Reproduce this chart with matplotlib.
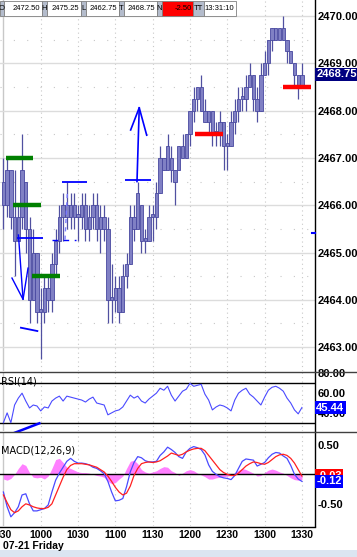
import matplotlib
matplotlib.use('Agg')
import matplotlib.pyplot as plt
from matplotlib.patches import Rectangle
import numpy as np

# 3-minute bars from 9:30, minutes since open
bar_open = [2466.5, 2466.0, 2466.75, 2465.75, 2465.25, 2465.75, 2466.5, 2465.5, 2464.0, 2465.0,
            2463.75, 2463.75, 2464.25, 2464.0, 2464.75, 2465.25, 2465.75, 2466.0, 2465.75, 2466.0,
            2465.75, 2465.75, 2466.0, 2465.5, 2465.75, 2466.0, 2465.5, 2465.75, 2465.5, 2464.0,
            2464.0, 2464.25, 2463.75, 2464.5, 2464.75, 2465.75, 2465.5, 2466.0, 2465.25, 2465.25,
            2465.75, 2465.75, 2466.25, 2467.0, 2466.75, 2467.0, 2466.75, 2466.75, 2467.25, 2467.0,
            2467.5, 2468.0, 2468.25, 2468.5, 2468.0, 2467.75, 2468.0, 2467.5, 2467.5, 2467.75,
            2467.25, 2467.25, 2467.75, 2468.0, 2468.25, 2468.25, 2468.5, 2468.75, 2468.25, 2468.0,
            2468.75, 2469.0, 2469.5, 2469.75, 2469.5, 2469.75, 2469.5, 2469.25, 2469.0, 2468.75,
            2468.5]
bar_high = [2467.0, 2467.0, 2466.75, 2466.75, 2466.0, 2467.5, 2466.5, 2465.75, 2465.5, 2465.0,
            2464.25, 2464.5, 2464.5, 2465.0, 2465.5, 2466.0, 2466.25, 2466.5, 2466.25, 2466.25,
            2466.0, 2466.25, 2466.25, 2466.0, 2466.25, 2466.25, 2466.0, 2466.0, 2465.75, 2464.75,
            2464.5, 2464.5, 2464.75, 2465.0, 2466.0, 2466.0, 2466.5, 2466.0, 2465.5, 2466.0,
            2466.0, 2466.5, 2467.25, 2467.0, 2467.5, 2467.25, 2466.75, 2467.25, 2467.5, 2467.5,
            2468.0, 2468.5, 2468.5, 2468.75, 2468.25, 2468.0, 2468.0, 2467.75, 2468.0, 2467.75,
            2467.5, 2468.0, 2468.25, 2468.5, 2468.5, 2468.75, 2469.0, 2468.75, 2468.5, 2469.0,
            2469.25, 2469.5, 2469.75, 2469.75, 2469.75, 2470.0, 2469.5, 2469.25, 2469.0, 2468.75,
            2469.0]
bar_low = [2465.5, 2465.75, 2465.5, 2464.5, 2465.25, 2465.5, 2465.0, 2463.5, 2464.0, 2463.5,
           2462.75, 2463.5, 2463.75, 2463.75, 2464.5, 2465.0, 2465.25, 2465.5, 2465.5, 2465.5,
           2465.25, 2465.5, 2465.25, 2465.25, 2465.5, 2465.25, 2465.0, 2465.25, 2463.5, 2463.5,
           2463.75, 2463.5, 2463.75, 2464.25, 2464.75, 2465.25, 2465.5, 2465.0, 2465.0, 2465.25,
           2465.25, 2465.5, 2466.25, 2466.75, 2466.75, 2466.5, 2466.0, 2466.75, 2467.0, 2467.0,
           2467.25, 2467.75, 2468.0, 2468.0, 2467.75, 2467.5, 2467.25, 2467.25, 2467.25, 2466.75,
           2466.75, 2467.25, 2467.5, 2467.75, 2468.0, 2468.0, 2468.5, 2468.0, 2467.75, 2468.0,
           2468.75, 2468.75, 2469.25, 2469.5, 2469.5, 2469.5, 2469.0, 2469.0, 2468.5, 2468.25,
           2468.5]
bar_close = [2466.0, 2466.75, 2465.75, 2465.25, 2465.75, 2466.75, 2465.5, 2464.0, 2465.0, 2463.75,
             2463.75, 2464.25, 2464.0, 2464.75, 2465.25, 2465.75, 2466.0, 2465.75, 2466.0, 2465.75,
             2465.75, 2466.0, 2465.5, 2465.75, 2466.0, 2465.5, 2465.75, 2465.5, 2464.0, 2464.0,
             2464.25, 2463.75, 2464.5, 2464.75, 2465.75, 2465.5, 2466.25, 2465.25, 2465.25, 2465.75,
             2465.75, 2466.25, 2467.0, 2466.75, 2467.25, 2466.75, 2466.5, 2467.25, 2467.0, 2467.5,
             2468.0, 2468.25, 2468.5, 2468.0, 2467.75, 2468.0, 2467.5, 2467.5, 2467.75, 2467.25,
             2467.25, 2467.75, 2468.0, 2468.25, 2468.25, 2468.5, 2468.75, 2468.25, 2468.0, 2468.75,
             2469.0, 2469.5, 2469.75, 2469.5, 2469.75, 2469.5, 2469.25, 2469.0, 2468.75, 2468.5,
             2468.75]

rsi = [30, 40, 30, 48, 55, 60, 52, 45, 48, 47, 42, 46, 45, 52, 55, 57, 52, 57, 56, 55,
       54, 53, 51, 54, 56, 50, 49, 48, 38, 40, 42, 43, 46, 52, 58, 55, 57, 52, 50, 54,
       57, 60, 65, 63, 67, 58, 52, 57, 62, 64, 70, 67, 68, 69, 59, 53, 43, 46, 48, 47,
       45, 42, 53, 60, 63, 65, 59, 56, 52, 48, 56, 63, 66, 67, 65, 62, 55, 50, 43, 39, 45.44]

macd = [-0.30, -0.55, -0.72, -0.65, -0.55, -0.35, -0.33, -0.50, -0.62, -0.62,
        -0.60, -0.58, -0.52, -0.30, -0.10, 0.02, 0.12, 0.22, 0.27, 0.22,
        0.19, 0.19, 0.18, 0.16, 0.12, 0.10, 0.06, 0.01, -0.12, -0.30,
        -0.45, -0.44, -0.41, -0.21, 0.04, 0.20, 0.30, 0.28, 0.23, 0.21,
        0.21, 0.22, 0.32, 0.38, 0.46, 0.42, 0.37, 0.30, 0.27, 0.38,
        0.44, 0.47, 0.45, 0.42, 0.33, 0.16, 0.05, 0.00, -0.04, -0.06,
        -0.07, -0.09, -0.02, 0.10, 0.22, 0.26, 0.25, 0.24, 0.14, 0.17,
        0.20, 0.28, 0.34, 0.37, 0.36, 0.31, 0.27, 0.15, 0.00, -0.08, -0.12]
signal = [-0.35, -0.48, -0.60, -0.65, -0.62, -0.55, -0.50, -0.52, -0.55, -0.57,
          -0.58, -0.58, -0.56, -0.50, -0.35, -0.20, -0.05, 0.08, 0.15, 0.18,
          0.18, 0.18, 0.17, 0.16, 0.14, 0.12, 0.08, 0.04, -0.03, -0.12,
          -0.22, -0.30, -0.35, -0.32, -0.20, -0.02, 0.10, 0.18, 0.20, 0.21,
          0.20, 0.21, 0.23, 0.27, 0.31, 0.36, 0.34, 0.32, 0.34, 0.38,
          0.41, 0.43, 0.44, 0.44, 0.40, 0.32, 0.24, 0.16, 0.08, 0.03,
          0.00, -0.02, -0.02, 0.02, 0.08, 0.14, 0.18, 0.21, 0.20, 0.18,
          0.17, 0.20, 0.25, 0.30, 0.33, 0.34, 0.32, 0.27, 0.19, 0.08, -0.03]
hist = [-0.08, -0.10, -0.07, 0.0, 0.10, 0.18, 0.15, 0.03, -0.05, -0.06,
        -0.05, -0.08, -0.03, 0.10, 0.25, 0.27, 0.20, 0.12, 0.10, 0.07,
        0.04, 0.03, 0.03, 0.02, 0.0, -0.02, -0.03, -0.05, -0.12, -0.16,
        -0.14, -0.08, -0.03, 0.10, 0.22, 0.24, 0.18, 0.08, 0.04, 0.02,
        0.04, 0.06, 0.10, 0.13, 0.12, 0.06, 0.03, -0.02, 0.02, 0.06,
        0.08, 0.06, 0.02, -0.01, -0.04, -0.08, -0.08, -0.06, -0.05, -0.04,
        -0.03, -0.02, 0.03, 0.07, 0.10, 0.08, 0.05, 0.02, -0.03, -0.02,
        0.03, 0.07, 0.09, 0.07, 0.04, 0.02, -0.02, -0.06, -0.09, -0.10, -0.09]

time_ticks = [0, 30, 60, 90, 120, 150, 180, 210, 240]
time_labels = ['930', '1000', '1030', '1100', '1130', '1200', '1230', '1300', '1330']
price_ticks = [2463, 2464, 2465, 2466, 2467, 2468, 2469, 2470]

header = [('O', ''), ('2472.50', 'v'), ('H', ''), ('2475.25', 'v'), ('L', ''), ('2462.75', 'v'),
          ('T', ''), ('2468.75', 'v'), ('N', ''), ('-2.50', 'r'), ('TT', ''), ('13:31:10', 'v')]
header_x = [0, 4, 42, 47, 81, 86, 119, 124, 157, 162, 193, 204, 236]

W, H = 357, 557
fig = plt.figure(figsize=(W / 100, H / 100), dpi=100)

def box(x0, y0, x1, y1):
    return [x0 / W, 1 - y1 / H, (x1 - x0) / W, (y1 - y0) / H]

t = np.arange(len(bar_open)) * 3
XL = (-2.73, 250.5)
lab = dict(family='Liberation Sans', weight='bold', size=8)

ax = fig.add_axes(box(0, 0, 315, 371))
ax_r = fig.add_axes(box(0, 372, 315, 431))
ax_m = fig.add_axes(box(0, 432, 315, 526))

for a in (ax, ax_r, ax_m):
    a.set_xlim(*XL)
    for s in ('left', 'top', 'bottom'):
        a.spines[s].set_visible(False)
    a.spines['right'].set_color('black')
    a.spines['right'].set_linewidth(1)
    a.yaxis.tick_right()
    a.tick_params(axis='y', length=0, pad=2)
    a.tick_params(axis='x', length=0)
    a.set_xticks(time_ticks)
    for xt in time_ticks[1:]:
        a.axvline(xt, color='#c8c8c8', lw=0.8, ls=(0, (1, 3)), zorder=0)
    a.axvline(0, color='#c8c8c8', lw=1, zorder=0)

# price panel
ax.set_ylim(2462.495, 2470.338)
ax.set_yticks(price_ticks)
ax.set_yticklabels(['%.2f' % p for p in price_ticks], **lab)
ax.set_xticklabels([])
for p in price_ticks:
    ax.axhline(p, color='#dcdcdc', lw=1, zorder=0)
    ax.axhline(p + 0.5, color='#c8c8c8', lw=0.8, ls=(0, (1, 11)), zorder=0)

o = np.array(bar_open); c = np.array(bar_close)
ax.vlines(t, bar_low, bar_high, color='#5050a0', lw=0.9, zorder=2)
bot = np.minimum(o, c)
ht = np.maximum(np.abs(c - o), 0.06)
ax.bar(t, ht, bottom=bot, width=2.7, color='#8080c4', edgecolor='#4848a0', lw=0.6, zorder=3)

# drawn levels
ax.hlines([2467.0, 2466.0, 2464.5], [2.1, 7.7, 23.0], [23.8, 30.2, 45.5], color='#008000', lw=3.2, zorder=5)
ax.hlines([2467.5, 2468.5], [154, 224.8], [176.5, 247.3], color='#ff0000', lw=3.2, zorder=5)
blue = '#0000ff'
ax.hlines([2465.3, 2466.5, 2466.53], [10.9, 47.1, 97.7], [31.8, 67.2, 118.4], color=blue, lw=1.3, zorder=6)
ax.plot([39, 58.4], [2465.27, 2465.27], color=blue, lw=1, ls=(0, (4, 4)), zorder=6)
ax.plot([49.5, 51.5], [2465.27, 2466.3], color='#7a7aff', lw=1, ls=(0, (3, 3)), zorder=6)
ax.plot([6.9, 15.8, 19.8], [2464.46, 2464.01, 2464.67], color=blue, lw=1, zorder=6)
ax.plot([12.1, 15.8], [2465.37, 2464.01], color=blue, lw=1, zorder=6)
ax.plot([14.1, 27.3], [2463.41, 2463.34], color=blue, lw=1.3, zorder=6)
ax.plot([107.4, 109.2], [2466.5, 2468.06], color=blue, lw=1.2, zorder=6)
ax.plot([102.3, 109.2, 115.2], [2467.59, 2468.06, 2467.48], color=blue, lw=1.2, zorder=6)
ax.plot([247.7, 250.5], [2465.42, 2465.42], color=blue, lw=1.5, zorder=6, clip_on=False)
ax.text(1.004, 2468.77, '2468.75', transform=ax.get_yaxis_transform(), color='white', va='center',
        ha='left', bbox=dict(boxstyle='square,pad=0.15', fc='#000080', ec='none'), **lab)

# RSI panel
ax_r.set_ylim(21.6, 81.5)
ax_r.set_yticks([80, 60, 40])
ax_r.set_yticklabels(['80.00', '60.00', '40.00'], **lab)
ax_r.set_xticklabels([])
ax_r.axhline(70, color='black', lw=1)
ax_r.axhline(30, color='black', lw=1)
ax_r.plot(t, rsi, color='#4a4aff', lw=0.8)
ax_r.plot([8.5, 28.9], [19.5, 29.4], color=blue, lw=1.8, clip_on=False, zorder=6)
ax_r.text(0.003, 0.92, 'RSI(14)', transform=ax_r.transAxes, fontsize=7, va='top', ha='left')
ax_r.text(1.004, 45.44, '45.44', transform=ax_r.get_yaxis_transform(), color='white', va='center',
          ha='left', bbox=dict(boxstyle='square,pad=0.15', fc='#0000ff', ec='none'), **lab)

# MACD panel
ax_m.set_ylim(-0.876, 0.717)
ax_m.set_yticks([0.5, -0.5])
ax_m.set_yticklabels(['0.50', '-0.50'], **lab)
ax_m.fill_between(t, 0, hist, color='#ff80ff', lw=0, zorder=1)
ax_m.axhline(0, color='black', lw=1, zorder=2)
ax_m.plot(t, macd, color='#4a4aff', lw=0.9, zorder=3)
ax_m.plot(t, signal, color='#ff2020', lw=0.9, zorder=4)
ax_m.text(0.003, 0.86, 'MACD(12,26,9)', transform=ax_m.transAxes, fontsize=7, va='top', ha='left')
ax_m.text(1.004, -0.03, '-0.03', transform=ax_m.get_yaxis_transform(), color='white', va='center',
          ha='left', bbox=dict(boxstyle='square,pad=0.15', fc='#ff0000', ec='none'), zorder=5, **lab)
ax_m.text(1.004, -0.12, '-0.12', transform=ax_m.get_yaxis_transform(), color='white', va='center',
          ha='left', bbox=dict(boxstyle='square,pad=0.15', fc='#0000ff', ec='none'), zorder=6, **lab)
ax_m.set_xticklabels(time_labels, family='Liberation Sans', weight='bold', size=7.5)
ax_m.tick_params(axis='x', pad=3)

# overlay in pixel coordinates
ov = fig.add_axes([0, 0, 1, 1], zorder=10)
ov.set_xlim(0, W)
ov.set_ylim(H, 0)
ov.axis('off')
ov.patch.set_alpha(0)
for yy in (371.5, 431.5):
    ov.plot([0, W], [yy, yy], color='#404040', lw=1)
ov.plot([0, 315], [526.5, 526.5], color='black', lw=1)
ov.add_patch(Rectangle((0, 550), W, 7, color='#dbe5f1', lw=0))
ov.text(3, 546, '07-21 Friday', family='Liberation Sans', weight='bold', size=7.5, va='center', ha='left')

for k, (txt, kind) in enumerate(header):
    x0, x1 = header_x[k], header_x[k + 1]
    if kind == '':
        fc = '#b4bccc'
    elif kind == 'r':
        fc = '#ff0000'
    else:
        fc = 'white'
    ov.add_patch(Rectangle((x0, 1), x1 - x0, 15, fc=fc, ec='#808080', lw=0.6))
    if kind == '':
        ov.text(x0 + (x1 - x0) / 2, 8.5, txt, size=5.5, va='center', ha='center', family='Liberation Sans')
    else:
        ov.text(x1 - 1.5, 8.5, txt, size=5.5, va='center', ha='right', family='Liberation Sans')

fig.savefig('out.png', dpi=100, facecolor='white')
